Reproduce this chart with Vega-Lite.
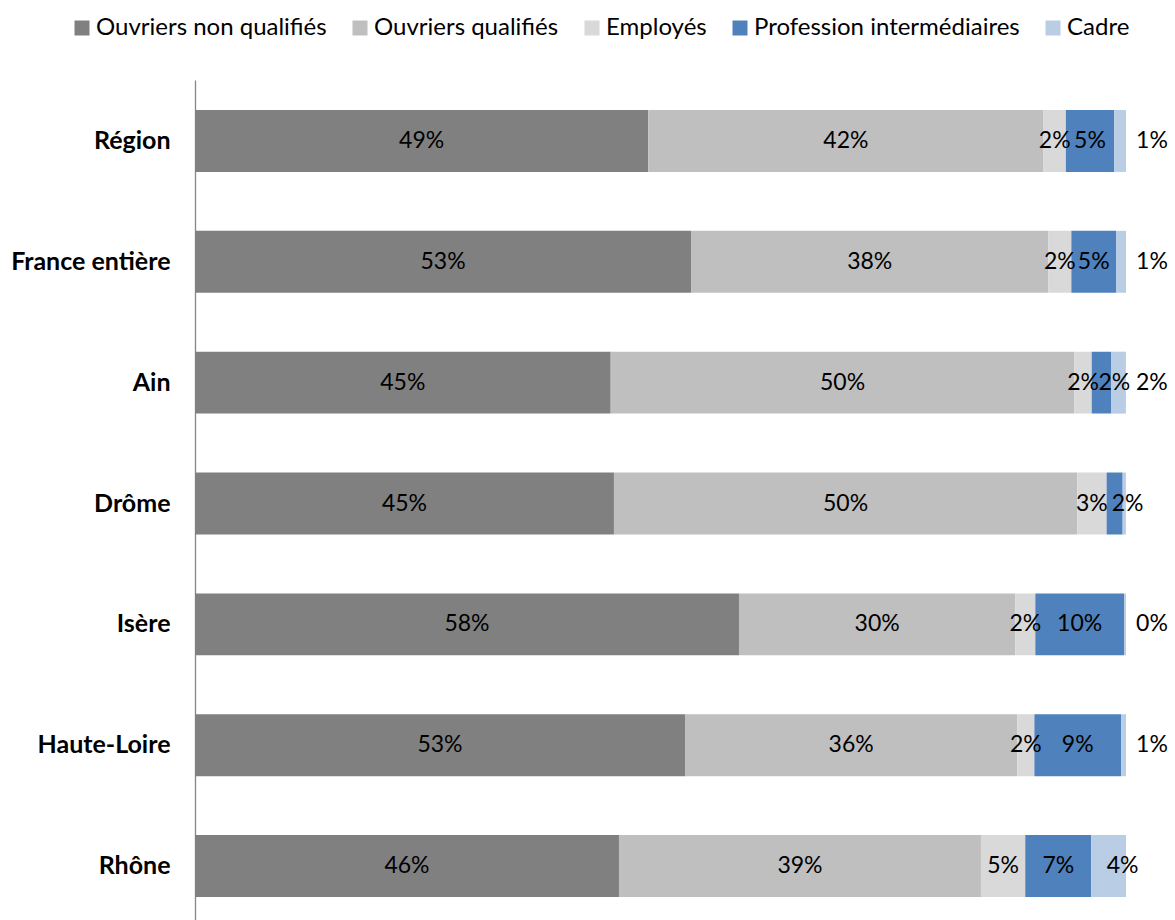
{
  "$schema": "https://vega.github.io/schema/vega-lite/v6.json",
  "width": 931,
  "height": 847,
  "autosize": {"type": "none"},
  "padding": {"left": 195, "top": 80, "right": 49, "bottom": 0},
  "background": "white",
  "config": {"font": "Lato", "view": {"stroke": null}},
  "data": {
    "values": [
      {"geo": "Région", "cat": "Ouvriers non qualifiés", "value": 0.4869},
      {"geo": "Région", "cat": "Ouvriers qualifiés", "value": 0.4245},
      {"geo": "Région", "cat": "Employés", "value": 0.024},
      {"geo": "Région", "cat": "Profession intermédiaires", "value": 0.0518},
      {"geo": "Région", "cat": "Cadre", "value": 0.0128},
      {"geo": "France entière", "cat": "Ouvriers non qualifiés", "value": 0.5328},
      {"geo": "France entière", "cat": "Ouvriers qualifiés", "value": 0.3838},
      {"geo": "France entière", "cat": "Employés", "value": 0.0247},
      {"geo": "France entière", "cat": "Profession intermédiaires", "value": 0.048},
      {"geo": "France entière", "cat": "Cadre", "value": 0.0107},
      {"geo": "Ain", "cat": "Ouvriers non qualifiés", "value": 0.4465},
      {"geo": "Ain", "cat": "Ouvriers qualifiés", "value": 0.498},
      {"geo": "Ain", "cat": "Employés", "value": 0.0187},
      {"geo": "Ain", "cat": "Profession intermédiaires", "value": 0.0207},
      {"geo": "Ain", "cat": "Cadre", "value": 0.016},
      {"geo": "Drôme", "cat": "Ouvriers non qualifiés", "value": 0.45},
      {"geo": "Drôme", "cat": "Ouvriers qualifiés", "value": 0.4976},
      {"geo": "Drôme", "cat": "Employés", "value": 0.0316},
      {"geo": "Drôme", "cat": "Profession intermédiaires", "value": 0.0172},
      {"geo": "Drôme", "cat": "Cadre", "value": 0.0035},
      {"geo": "Isère", "cat": "Ouvriers non qualifiés", "value": 0.5843},
      {"geo": "Isère", "cat": "Ouvriers qualifiés", "value": 0.2968},
      {"geo": "Isère", "cat": "Employés", "value": 0.0215},
      {"geo": "Isère", "cat": "Profession intermédiaires", "value": 0.0953},
      {"geo": "Isère", "cat": "Cadre", "value": 0.0021},
      {"geo": "Haute-Loire", "cat": "Ouvriers non qualifiés", "value": 0.5263},
      {"geo": "Haute-Loire", "cat": "Ouvriers qualifiés", "value": 0.357},
      {"geo": "Haute-Loire", "cat": "Employés", "value": 0.0183},
      {"geo": "Haute-Loire", "cat": "Profession intermédiaires", "value": 0.0931},
      {"geo": "Haute-Loire", "cat": "Cadre", "value": 0.0053},
      {"geo": "Rhône", "cat": "Ouvriers non qualifiés", "value": 0.4554},
      {"geo": "Rhône", "cat": "Ouvriers qualifiés", "value": 0.3888},
      {"geo": "Rhône", "cat": "Employés", "value": 0.0476},
      {"geo": "Rhône", "cat": "Profession intermédiaires", "value": 0.0709},
      {"geo": "Rhône", "cat": "Cadre", "value": 0.0373}
    ]
  },
  "transform": [
    {"stack": "value", "groupby": ["geo"], "as": ["v0", "v1"]}
  ],
  "encoding": {
    "y": {
      "field": "geo",
      "type": "nominal",
      "sort": ["Région", "France entière", "Ain", "Drôme", "Isère", "Haute-Loire", "Rhône"],
      "scale": {"paddingInner": 0.4876, "paddingOuter": 0.248},
      "axis": {
        "title": null,
        "domainColor": "#868686",
        "domainWidth": 1.3,
        "ticks": false,
        "tickSize": 0,
        "labelFontSize": 25,
        "labelFontWeight": "bold",
        "labelColor": "#000000",
        "labelPadding": 25,
        "labelLimit": 300
      }
    }
  },
  "layer": [
    {
      "mark": {"type": "bar"},
      "encoding": {
        "x": {"field": "v0", "type": "quantitative", "scale": {"domain": [0, 1]}, "axis": null},
        "x2": {"field": "v1"},
        "color": {
          "field": "cat",
          "type": "nominal",
          "scale": {
            "domain": ["Ouvriers non qualifiés", "Ouvriers qualifiés", "Employés", "Profession intermédiaires", "Cadre"],
            "range": ["#808080", "#BFBFBF", "#D9D9D9", "#4F81BD", "#B9CDE5"]
          },
          "legend": {
            "orient": "none",
            "direction": "horizontal",
            "legendX": -125,
            "legendY": -64,
            "title": null,
            "symbolType": "square",
            "symbolSize": 225,
            "symbolStrokeWidth": 0,
            "labelFontSize": 24,
            "labelColor": "#000000",
            "labelOffset": 2,
            "columnPadding": 21,
            "labelLimit": 400
          }
        }
      }
    },
    {
      "transform": [
        {"fold": ["v0", "v1"], "as": ["edge", "pos"]},
        {"aggregate": [{"op": "mean", "field": "pos", "as": "mid"}], "groupby": ["geo", "cat", "value"]}
      ],
      "layer": [
        {
          "transform": [
            {"filter": "datum.cat != 'Cadre' && !(datum.cat == 'Profession intermédiaires' && datum.value < 0.03)"}
          ],
          "mark": {"type": "text", "fontSize": 23, "color": "#000000", "align": "center", "baseline": "middle"},
          "encoding": {
            "x": {"field": "mid", "type": "quantitative", "scale": {"domain": [0, 1]}},
            "text": {"field": "value", "type": "quantitative", "format": ".0%"}
          }
        },
        {
          "transform": [
            {"filter": "datum.cat == 'Profession intermédiaires' && datum.value < 0.03"}
          ],
          "mark": {"type": "text", "fontSize": 23, "color": "#000000", "align": "center", "baseline": "middle", "dx": 13},
          "encoding": {
            "x": {"field": "mid", "type": "quantitative", "scale": {"domain": [0, 1]}},
            "text": {"field": "value", "type": "quantitative", "format": ".0%"}
          }
        },
        {
          "transform": [
            {"filter": "datum.cat == 'Cadre' && datum.value >= 0.03"}
          ],
          "mark": {"type": "text", "fontSize": 23, "color": "#000000", "align": "center", "baseline": "middle", "dx": 14},
          "encoding": {
            "x": {"field": "mid", "type": "quantitative", "scale": {"domain": [0, 1]}},
            "text": {"field": "value", "type": "quantitative", "format": ".0%"}
          }
        }
      ]
    },
    {
      "transform": [
        {"filter": "datum.cat == 'Cadre' && datum.value < 0.03 && datum.geo != 'Drôme'"}
      ],
      "mark": {"type": "text", "fontSize": 23, "color": "#000000", "align": "center", "baseline": "middle", "dx": 26},
      "encoding": {
        "x": {"field": "v1", "type": "quantitative", "scale": {"domain": [0, 1]}},
        "text": {"field": "value", "type": "quantitative", "format": ".0%"}
      }
    }
  ]
}
